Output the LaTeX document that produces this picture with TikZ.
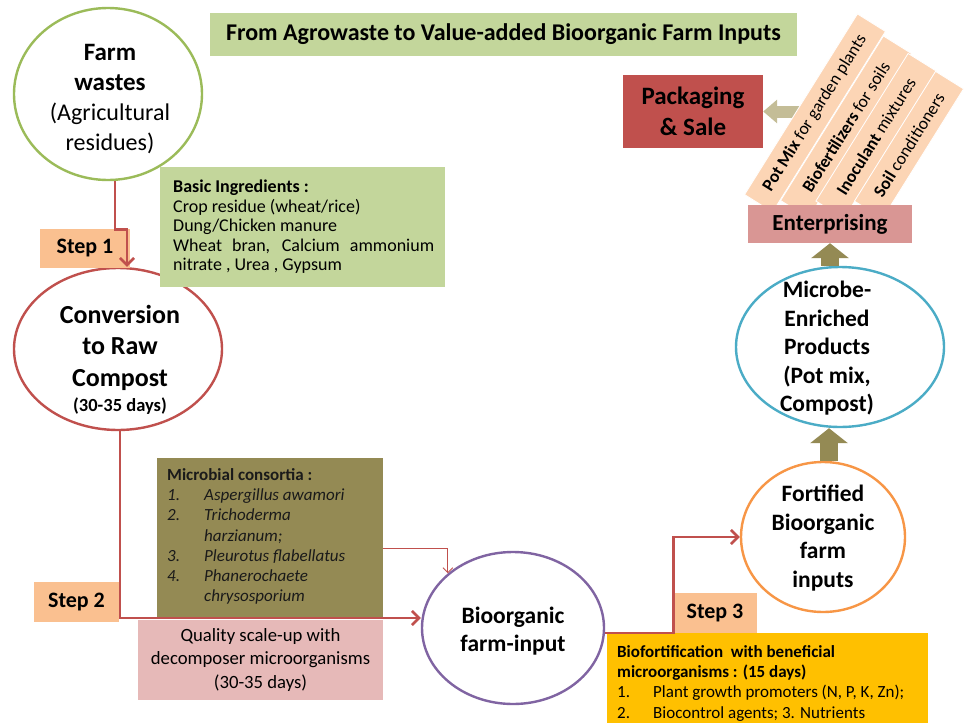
\documentclass[tikz,border=0pt]{standalone}
\usepackage{fontspec}
\setmainfont{Carlito}
\usetikzlibrary{arrows.meta,shapes.geometric}
\definecolor{gfill}{HTML}{C3D69B}
\definecolor{gline}{HTML}{9BBB59}
\definecolor{rline}{HTML}{C0504D}
\definecolor{stepfill}{HTML}{FAC090}
\definecolor{olivefill}{HTML}{948A54}
\definecolor{pinkfill}{HTML}{E6B9B8}
\definecolor{entfill}{HTML}{D99694}
\definecolor{packfill}{HTML}{C0504D}
\definecolor{purp}{HTML}{8064A2}
\definecolor{orline}{HTML}{F79646}
\definecolor{bline}{HTML}{4BACC6}
\definecolor{yfill}{HTML}{FFC000}
\definecolor{peach}{HTML}{FCD5B5}
\definecolor{khaki}{HTML}{C4BD97}
\definecolor{fatol}{HTML}{948A54}
\definecolor{darktext}{HTML}{1A1A1A}
\newcommand{\fsz}[2]{\fontsize{#1}{#2}\selectfont}
\begin{document}
\begin{tikzpicture}[x=1pt,y=-1pt,
  oval/.style={draw, ellipse, line width=2.4pt, fill=white, inner sep=0pt},
  etext/.style={align=center, inner sep=0pt},
  box/.style={rectangle, inner sep=0pt},
  stepbox/.style={box, fill=stepfill, font=\fsz{22}{26}\bfseries},
  conn/.style={draw=rline, line width=2.6pt, -{Straight Barb[length=7pt,width=14pt]}},
  thinconn/.style={draw=rline, line width=1pt, -{Straight Barb[length=5pt,width=10pt]}},
  fatup/.style={draw=fatol, line width=18pt, -{Triangle[length=15pt,width=37pt]}},
  fatleft/.style={draw=khaki, line width=12pt, -{Triangle[length=14pt,width=23pt]}},
  rbox/.style={rectangle, fill=peach, draw=white, line width=0.8pt, rotate=58,
     minimum height=33pt, inner sep=0pt, font=\fsz{17.5}{20}}
]
\fill[white] (0,0) rectangle (964,723);
\useasboundingbox (0,0) rectangle (964,723);

% title
\node[box, fill=gfill, minimum width=587pt, minimum height=43pt, font=\fsz{24}{28}\bfseries]
  (title) at (503.5,34.5) {From Agrowaste to Value-added Bioorganic Farm Inputs};

% ellipses
\node[oval, draw=gline, minimum width=188pt, minimum height=172pt] (farm) at (108,94) {};
\node[oval, draw=rline, minimum width=208pt, minimum height=162pt] (conv) at (118,349) {};
\node[oval, draw=purp, minimum width=182pt, minimum height=152pt] (bio) at (513,628) {};
\node[oval, draw=orline, minimum width=164pt, minimum height=150pt] (fort) at (823,537) {};
\node[oval, draw=bline, minimum width=208pt, minimum height=160pt] (micro) at (840,347) {};

\node[etext, font=\fsz{24}{30}] (farmt) at (110,99)
  {\textbf{\fsz{25}{30}Farm}\\\textbf{\fsz{25}{30}wastes}\\(Agricultural\\residues)};
\node[etext, font=\fsz{26}{31.5}\bfseries] (convt) at (120,359.5)
  {Conversion\\to Raw\\Compost\\[-6.5pt]{\fsz{18.5}{22}(30-35 days)}};
\node[etext, font=\fsz{23.5}{28}\bfseries] (biot) at (513,631) {Bioorganic\\farm-input};
\node[etext, font=\fsz{23.5}{28.5}\bfseries] (fortt) at (823,538) {Fortified\\Bioorganic\\farm\\inputs};
\node[etext, font=\fsz{23.5}{28.5}\bfseries] (microt) at (827,348.5) {Microbe-\\Enriched\\Products\\(Pot mix,\\Compost)};

% text boxes
\node[box, fill=gfill, minimum width=285pt, minimum height=120pt] (ingr) at (302.5,227) {};
\node[box, anchor=north west, align=left, font=\fsz{18}{19.4}] (ingrt) at (173,180)
  {\textbf{Basic Ingredients :}\\
   Crop residue (wheat/rice)\\
   Dung/Chicken manure\\
   \makebox[261pt][s]{Wheat bran, Calcium ammonium}\\
   nitrate , Urea , Gypsum};

\node[box, fill=olivefill, minimum width=226pt, minimum height=160pt] (olive) at (270,538) {};
\node[box, anchor=north west, align=left, text=darktext, font=\fsz{17}{20.3}] (olivet) at (167,468)
  {\textbf{Microbial consortia :}\\
   \makebox[37pt][l]{\textit{1.}}\textit{Aspergillus awamori}\\
   \makebox[37pt][l]{\textit{2.}}\textit{Trichoderma}\\
   \makebox[37pt][l]{}\textit{harzianum;}\\
   \makebox[37pt][l]{\textit{3.}}\textit{Pleurotus flabellatus}\\
   \makebox[37pt][l]{\textit{4.}}\textit{Phanerochaete}\\
   \makebox[37pt][l]{}\textit{chrysosporium}};

\node[box, fill=pinkfill, minimum width=245pt, minimum height=80pt, align=center,
  font=\fsz{18.7}{23.5}] (pink) at (260.5,660)
  {Quality scale-up with\\decomposer microorganisms\\(30-35 days)};

\node[box, fill=yfill, minimum width=321pt, minimum height=92pt] (yel) at (767.5,679) {};
\node[box, anchor=north west, align=left, font=\fsz{17}{20.3}] (yelt) at (617,645)
  {\textbf{Biofortification\ \ with beneficial}\\
   \textbf{microorganisms : (15 days)}\\
   \makebox[36pt][l]{1.}Plant growth promoters (N, P, K, Zn);\\
   \makebox[36pt][l]{2.}Biocontrol agents; 3. Nutrients};

% step labels
\node[stepbox, minimum width=90pt, minimum height=39pt] (s1) at (85,248.5) {Step 1};
\node[stepbox, minimum width=85pt, minimum height=40pt] (s2) at (76.5,602) {Step 2};
\node[stepbox, minimum width=84pt, minimum height=40pt] (s3) at (715,613) {Step 3};

% connectors
\draw[conn] ([xshift=7pt]farm.south) -- ++(0,48) -- ++(12,0) -- ([xshift=9pt]conv.north);
\draw[conn] ([xshift=2pt]conv.south) |- ([yshift=10pt]bio.west);
\draw[thinconn] ([yshift=-10pt]olive.east) -| (bio.140);
\draw[conn] ([yshift=-5pt]bio.east) -- ++(68,0) |- (fort.west);

% packaging and enterprising
\node[box, fill=packfill, minimum width=140pt, minimum height=73pt, align=center,
  font=\fsz{25}{31}\bfseries] (pack) at (693,111.5) {Packaging\\\& Sale};
\draw[fatleft] ([xshift=40pt]pack.east) -- (pack.east);

\node[rbox, minimum width=213pt] (r1) at (815,113) {\textbf{Pot Mix} for garden plants};
\node[rbox, minimum width=194pt] (r2) at (846,127) {\textbf{Biofertilizers} for soils};
\node[rbox, minimum width=174pt] (r3) at (876,136) {\textbf{Inoculant} mixtures};
\node[rbox, minimum width=153pt] (r4) at (909,145) {\textbf{Soil} conditioners};

\node[box, fill=entfill, minimum width=164pt, minimum height=38pt, font=\fsz{23}{27}\bfseries]
  (ent) at (830,224) {Enterprising};

\draw[fatup] ([xshift=6pt]fort.north) -- ([xshift=6pt]fort.north |- micro.south);
\draw[fatup] (micro.north -| ent.south) -- (ent.south);
\end{tikzpicture}
\end{document}
